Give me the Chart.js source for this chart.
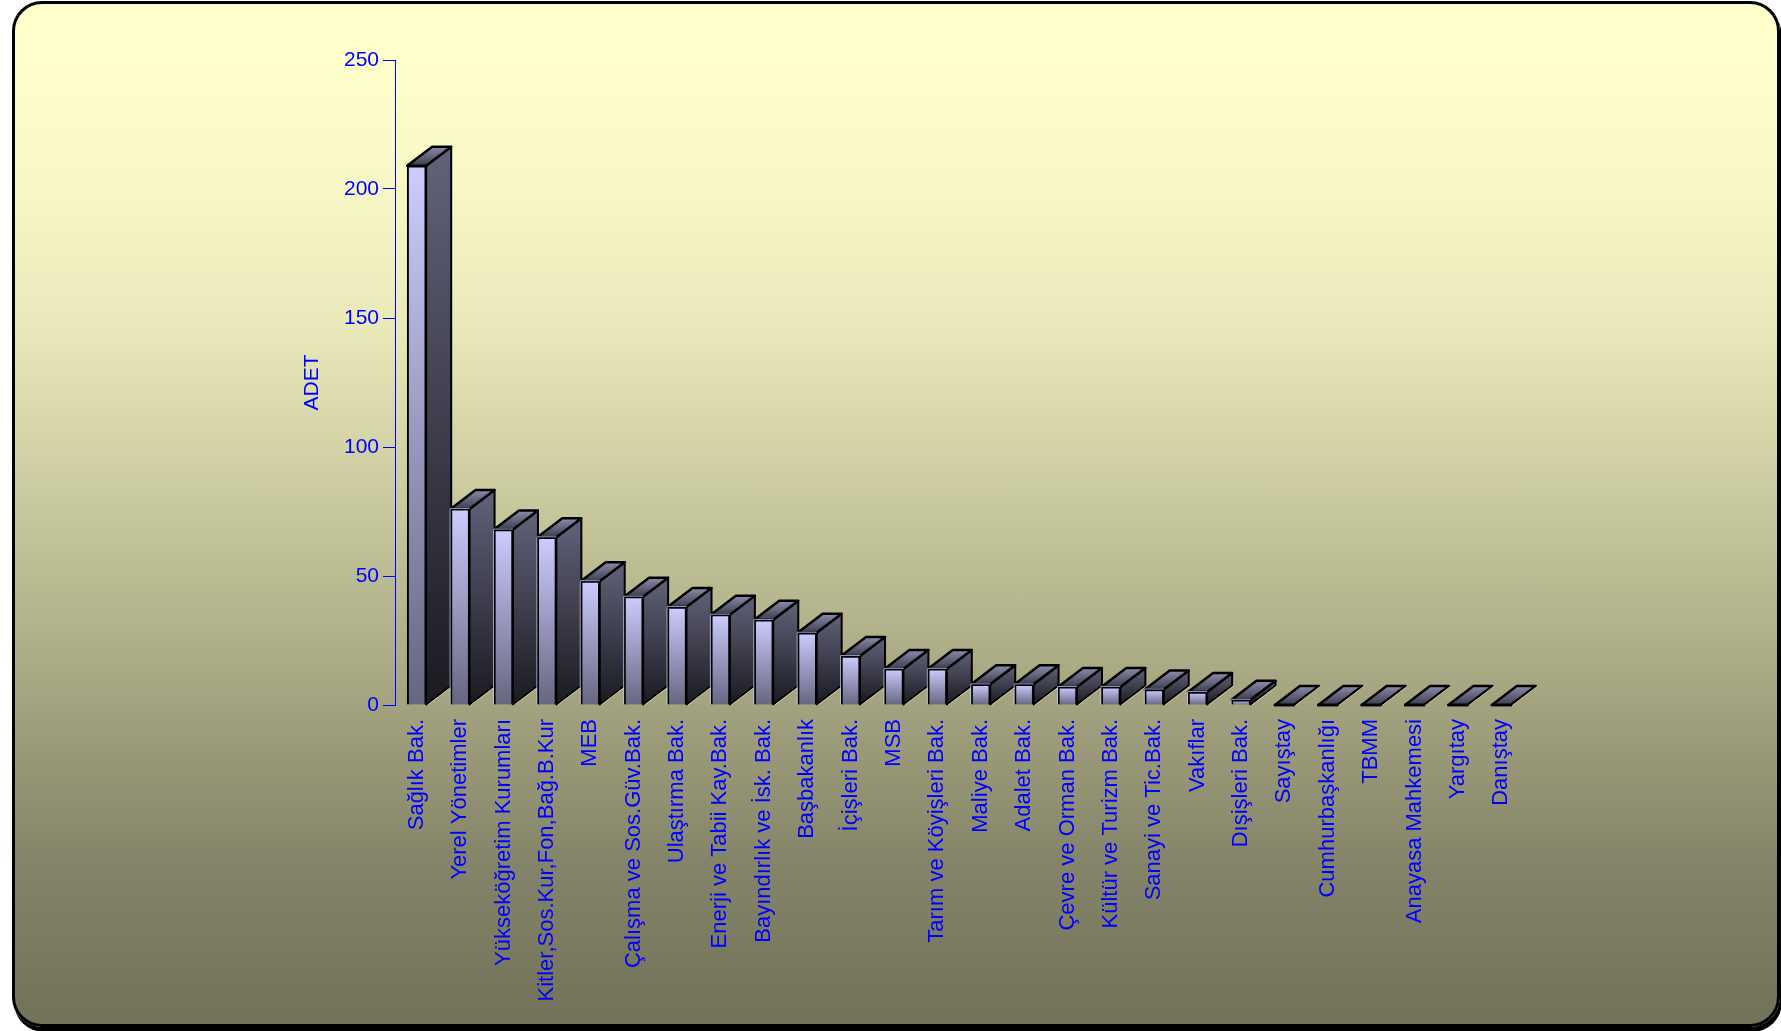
<!DOCTYPE html>
<html lang="tr">
<head>
    <meta charset="UTF-8">
    <title>ADET</title>
    <script src="https://cdn.jsdelivr.net/npm/chart.js"></script>
    <style>
        html, body { margin: 0; padding: 0; background: #fff; overflow: hidden; }
        #card {
            position: absolute; left: 12px; top: 1px; width: 1762px; height: 1020px;
            border: 3px solid #000; border-radius: 30px;
            background: linear-gradient(#ffffcc 0%, #ffffcc 6%, #f7f7c6 19%, #e8e8b8 32%, #d0d0a4 45%, #b8b890 58%, #9e9e7c 71%, #84846a 84%, #72725a 100%);
            box-shadow: 2px 5px 0 #000;
        }
        #chart { position: absolute; left: 0; top: 0; }
    </style>
</head>
<body>
    <div id="card"></div>
    <canvas id="chart" width="1781" height="1031"></canvas>
    <script>
        const categories = ["Sağlık Bak.", "Yerel Yönetimler", "Yükseköğretim Kurumları", "Kitler,Sos.Kur,Fon,Bağ.B.Kur",
            "MEB", "Çalışma ve Sos.Güv.Bak.", "Ulaştırma Bak.", "Enerji ve Tabii Kay.Bak.", "Bayındırlık ve İsk. Bak.",
            "Başbakanlık", "İçişleri Bak.", "MSB", "Tarım ve Köyişleri Bak.", "Maliye Bak.", "Adalet Bak.",
            "Çevre ve Orman Bak.", "Kültür ve Turizm Bak.", "Sanayi ve Tic.Bak.", "Vakıflar", "Dışişleri Bak.",
            "Sayıştay", "Cumhurbaşkanlığı", "TBMM", "Anayasa Mahkemesi", "Yargıtay", "Danıştay"];
        const values = [209, 76, 68, 65, 48, 42, 38, 35, 33, 28, 19, 14, 14, 8, 8, 7, 7, 6, 5, 2, 0, 0, 0, 0, 0, 0];

        const DEPTH_X = 25, DEPTH_Y = 19;
        const TICK_FONT = { family: "'Liberation Sans', Arial, sans-serif", size: 21 };
        const LABEL_FONT = { family: "'Liberation Sans', Arial, sans-serif", size: 22 };

        function vGradient(ctx, y0, y1, c0, c1) {
            const g = ctx.createLinearGradient(0, y0, 0, Math.max(y1, y0 + 1));
            g.addColorStop(0, c0);
            g.addColorStop(1, c1);
            return g;
        }

        function facePath(ctx, pts) {
            ctx.beginPath();
            pts.forEach((p, i) => i ? ctx.lineTo(p[0], p[1]) : ctx.moveTo(p[0], p[1]));
            ctx.closePath();
        }

        // chart.js has no 3d bars, so the side and top faces hang off each bar element
        const extrude = {
            id: "extrude",
            beforeDatasetsDraw(chart) {
                const ctx = chart.ctx;
                ctx.save();
                ctx.lineJoin = "round";
                chart.getDatasetMeta(0).data.forEach(bar => {
                    const l = bar.x - bar.width / 2, r = bar.x + bar.width / 2;
                    const top = bar.y, base = bar.base;

                    if (base - top > 0.5) {
                        facePath(ctx, [[r, top], [r + DEPTH_X, top - DEPTH_Y], [r + DEPTH_X, base - DEPTH_Y], [r, base]]);
                        ctx.fillStyle = vGradient(ctx, top - DEPTH_Y, base, "#62627a", "#1a1a20");
                        ctx.fill();
                        ctx.strokeStyle = "#000";
                        ctx.lineWidth = 2;
                        ctx.stroke();
                    }

                    facePath(ctx, [[l, top], [l + DEPTH_X, top - DEPTH_Y], [r + DEPTH_X, top - DEPTH_Y], [r, top]]);
                    ctx.fillStyle = vGradient(ctx, top - DEPTH_Y, top, "#8c8cac", "#3c3c4e");
                    ctx.fill();
                    ctx.strokeStyle = "#000";
                    ctx.lineWidth = 2.5;
                    ctx.stroke();

                    // pale edge along the foot of the box
                    ctx.beginPath();
                    ctx.moveTo(r + 1.5, base + 0.5);
                    ctx.lineTo(r + DEPTH_X + 1.5, base - DEPTH_Y + 0.5);
                    ctx.strokeStyle = "#c8c89c";
                    ctx.lineWidth = 1;
                    ctx.stroke();
                });
                ctx.restore();
            },
            afterDatasetsDraw(chart) {
                const ctx = chart.ctx;
                ctx.save();
                chart.getDatasetMeta(0).data.forEach((bar, i) => {
                    const l = bar.x - bar.width / 2, r = bar.x + bar.width / 2;
                    if (bar.base - bar.y < 0.5) {
                        ctx.beginPath();
                        ctx.moveTo(l - 1, bar.base);
                        ctx.lineTo(r + 1, bar.base);
                        ctx.strokeStyle = "#000";
                        ctx.lineWidth = 2.5;
                        ctx.stroke();
                    } else if (i > 0) {
                        ctx.beginPath();
                        ctx.moveTo(l - 0.5, bar.base);
                        ctx.lineTo(l - 0.5, bar.y - 0.5);
                        ctx.lineTo(r, bar.y - 0.5);
                        ctx.strokeStyle = "rgba(204,204,255,0.75)";
                        ctx.lineWidth = 1;
                        ctx.stroke();
                    }
                });
                ctx.restore();
            }
        };

        new Chart(document.getElementById("chart"), {
            type: "bar",
            data: {
                labels: categories,
                datasets: [{
                    data: values,
                    barThickness: 19,
                    borderColor: "#000",
                    borderWidth: 2,
                    backgroundColor(c) {
                        const y = c.chart.scales.y;
                        const y0 = y ? y.getPixelForValue(c.raw) : NaN, y1 = y ? y.getPixelForValue(0) : NaN;
                        // options get resolved once before the scale has its pixels
                        if (!Number.isFinite(y0) || !Number.isFinite(y1)) return "#ccccff";
                        return vGradient(c.chart.ctx, y0, y1, "#ccccff", "#666680");
                    }
                }]
            },
            options: {
                responsive: false,
                animation: false,
                devicePixelRatio: 1,
                layout: { padding: { left: 298, right: 258, top: 60, bottom: 0 } },
                plugins: { legend: { display: false }, tooltip: { enabled: false } },
                scales: {
                    x: {
                        grid: { display: false },
                        border: { display: false },
                        afterFit(s) { s.height = 326; },
                        ticks: { color: "#0000ff", font: LABEL_FONT, minRotation: 90, maxRotation: 90, autoSkip: false, padding: 6 }
                    },
                    y: {
                        min: 0,
                        max: 250,
                        afterFit(s) { s.width = 97; },
                        border: { color: "#0000ff", width: 1 },
                        grid: { drawOnChartArea: false, color: "#0000ff", tickLength: 12, tickWidth: 1 },
                        ticks: { stepSize: 50, color: "#0000ff", font: TICK_FONT, padding: 4 },
                        title: { display: true, text: "ADET", color: "#0000ff", font: TICK_FONT, padding: 2 }
                    }
                }
            },
            plugins: [extrude]
        });
    </script>
</body>
</html>
